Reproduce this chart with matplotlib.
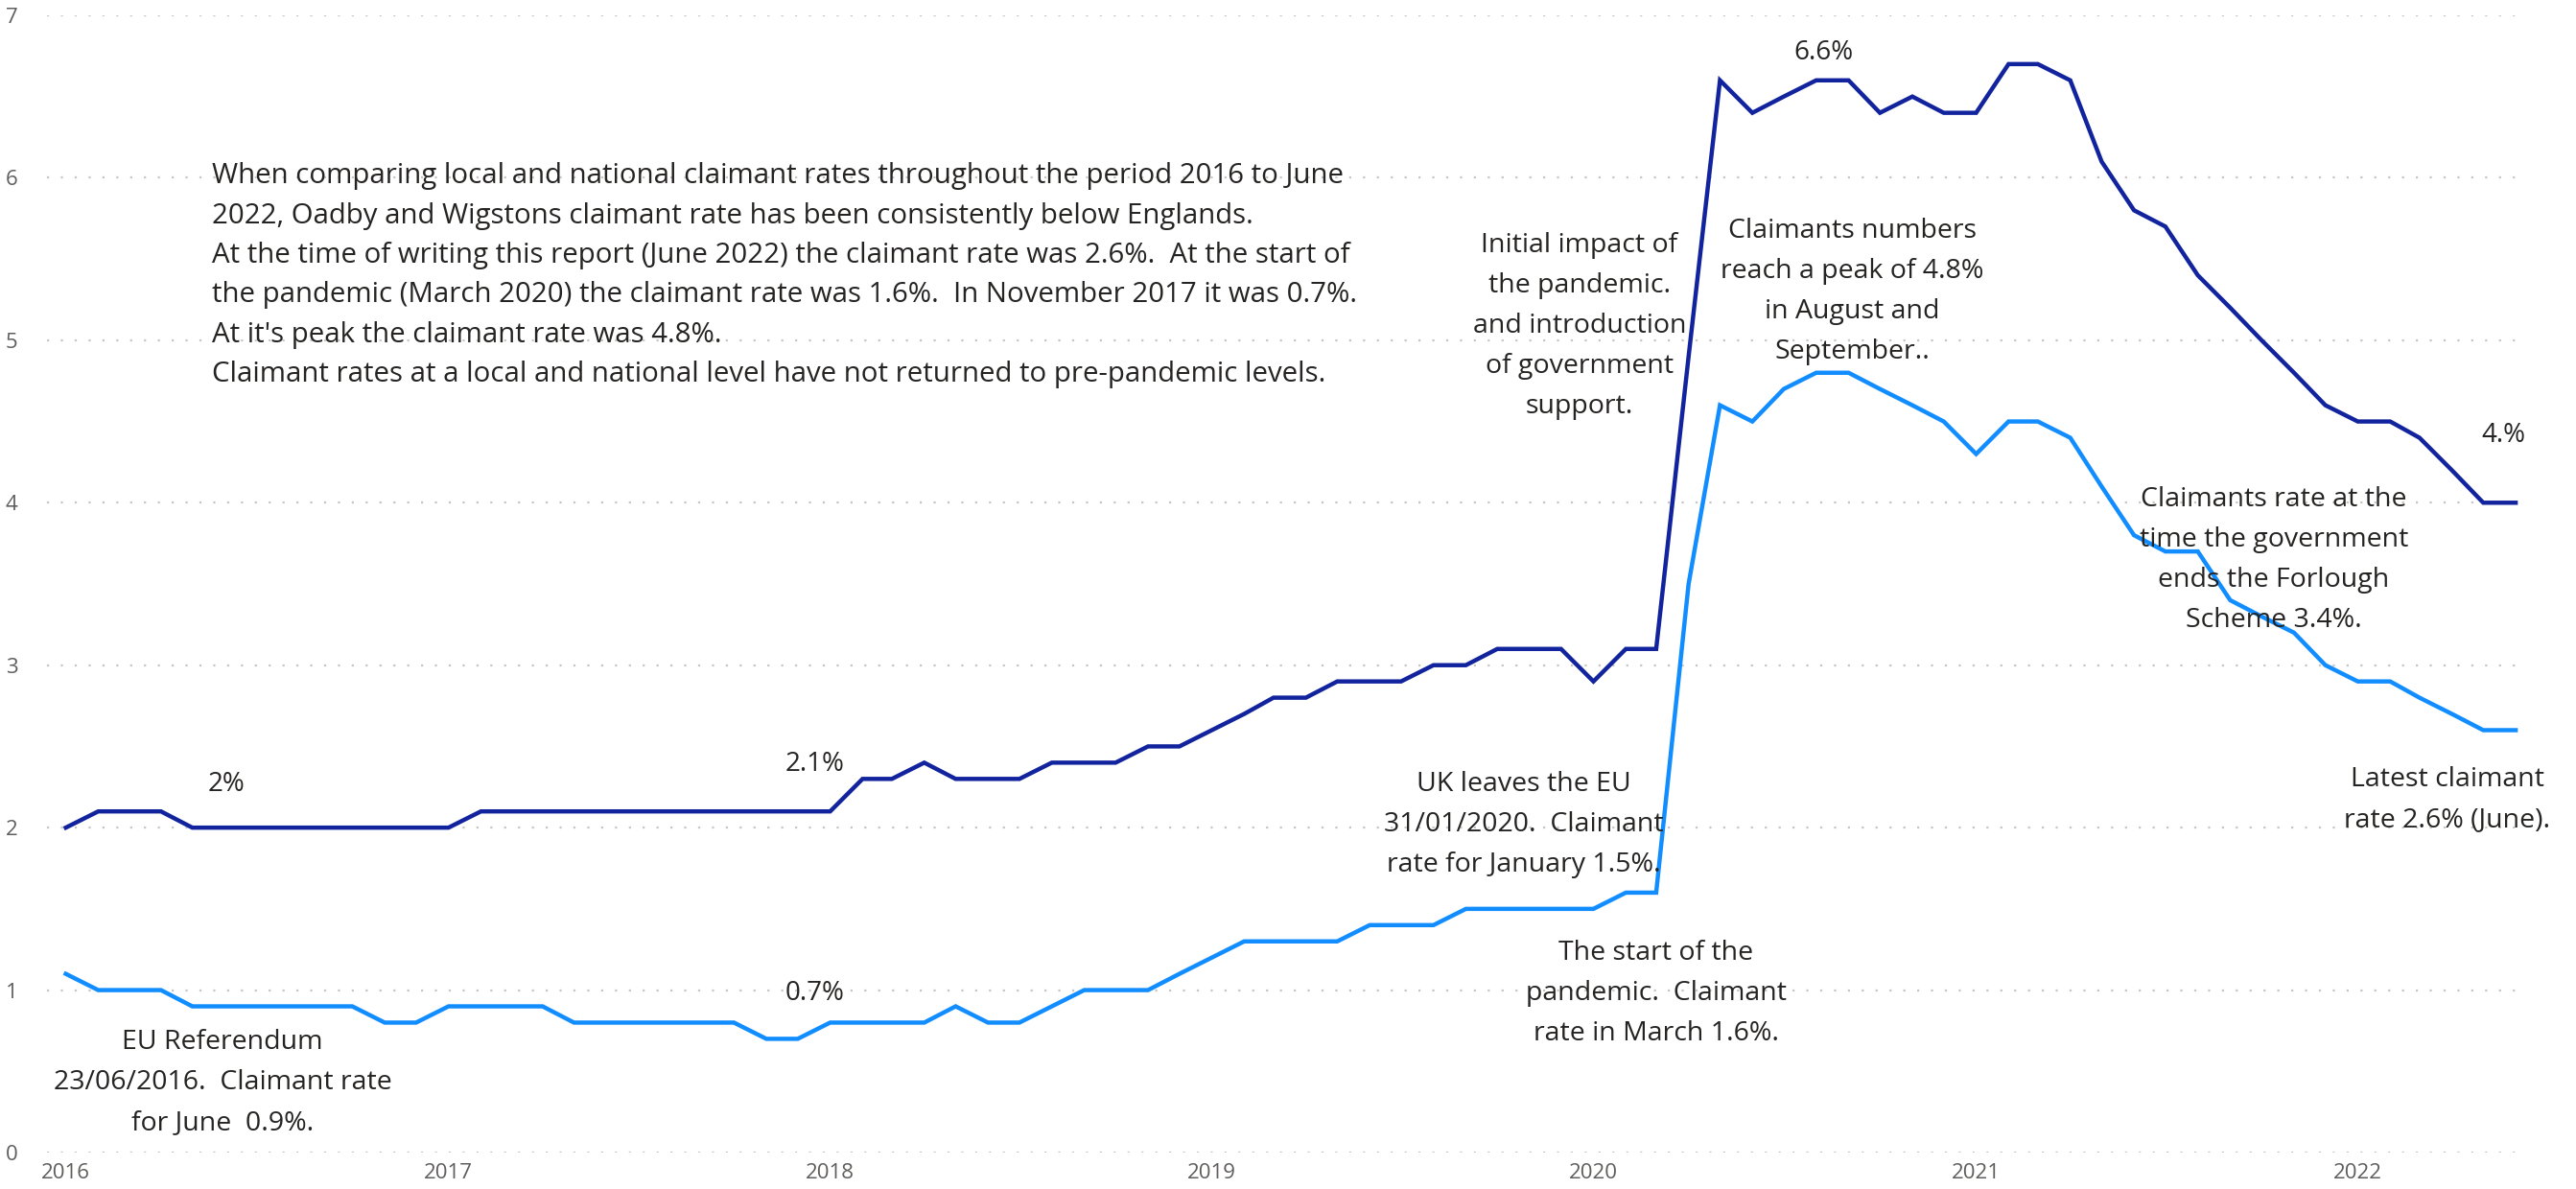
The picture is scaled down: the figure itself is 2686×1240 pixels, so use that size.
import matplotlib
matplotlib.use('Agg')
import matplotlib.pyplot as plt
import matplotlib.dates as mdates
import pandas as pd

# monthly claimant rates (%), Jan 2016 - Jun 2022
months = pd.date_range('2016-01-01', '2022-06-01', freq='MS')

england = [
    2.0, 2.1, 2.1, 2.1, 2.0, 2.0, 2.0, 2.0, 2.0, 2.0, 2.0, 2.0,   # 2016
    2.0, 2.1, 2.1, 2.1, 2.1, 2.1, 2.1, 2.1, 2.1, 2.1, 2.1, 2.1,   # 2017
    2.1, 2.3, 2.3, 2.4, 2.3, 2.3, 2.3, 2.4, 2.4, 2.4, 2.5, 2.5,   # 2018
    2.6, 2.7, 2.8, 2.8, 2.9, 2.9, 2.9, 3.0, 3.0, 3.1, 3.1, 3.1,   # 2019
    2.9, 3.1, 3.1, 4.9, 6.6, 6.4, 6.5, 6.6, 6.6, 6.4, 6.5, 6.4,   # 2020
    6.4, 6.7, 6.7, 6.6, 6.1, 5.8, 5.7, 5.4, 5.2, 5.0, 4.8, 4.6,   # 2021
    4.5, 4.5, 4.4, 4.2, 4.0, 4.0,                                 # 2022
]

oadby_wigston = [
    1.1, 1.0, 1.0, 1.0, 0.9, 0.9, 0.9, 0.9, 0.9, 0.9, 0.8, 0.8,   # 2016
    0.9, 0.9, 0.9, 0.9, 0.8, 0.8, 0.8, 0.8, 0.8, 0.8, 0.7, 0.7,   # 2017
    0.8, 0.8, 0.8, 0.8, 0.9, 0.8, 0.8, 0.9, 1.0, 1.0, 1.0, 1.1,   # 2018
    1.2, 1.3, 1.3, 1.3, 1.3, 1.4, 1.4, 1.4, 1.5, 1.5, 1.5, 1.5,   # 2019
    1.5, 1.6, 1.6, 3.5, 4.6, 4.5, 4.7, 4.8, 4.8, 4.7, 4.6, 4.5,   # 2020
    4.3, 4.5, 4.5, 4.4, 4.1, 3.8, 3.7, 3.7, 3.4, 3.3, 3.2, 3.0,   # 2021
    2.9, 2.9, 2.8, 2.7, 2.6, 2.6,                                 # 2022
]

years = [2016, 2017, 2018, 2019, 2020, 2021, 2022]
y_ticks = [0, 1, 2, 3, 4, 5, 6, 7]

# (month, which series, label text)
point_labels = [
    ('2016-06-01', 'eng', '2%'),
    ('2017-12-01', 'eng', '2.1%'),
    ('2017-12-01', 'ow', '0.7%'),
    ('2020-08-01', 'eng', '6.6%'),
    ('2022-06-01', 'eng', '4.%'),
]

summary = [
    "When comparing local and national claimant rates throughout the period 2016 to June",
    "2022, Oadby and Wigstons claimant rate has been consistently below Englands.",
    "At the time of writing this report (June 2022) the claimant rate was 2.6%.  At the start of",
    "the pandemic (March 2020) the claimant rate was 1.6%.  In November 2017 it was 0.7%.",
    "At it's peak the claimant rate was 4.8%.",
    "Claimant rates at a local and national level have not returned to pre-pandemic levels.",
]

notes = [
    (["EU Referendum", "23/06/2016.  Claimant rate", "for June  0.9%."], 232, 1087),
    (["UK leaves the EU", "31/01/2020.  Claimant", "rate for January 1.5%."], 1589, 818),
    (["The start of the", "pandemic.  Claimant", "rate in March 1.6%."], 1727, 994),
    (["Initial impact of", "the pandemic.", "and introduction", "of government", "support."], 1647, 256),
    (["Claimants numbers", "reach a peak of 4.8%", "in August and", "September.."], 1931, 241),
    (["Claimants rate at the", "time the government", "ends the Forlough", "Scheme 3.4%."], 2371, 521),
    (["Latest claimant", "rate 2.6% (June)."], 2552, 813),
]

DARK = '#12239E'
LIGHT = '#118DFF'
TEXT = '#252423'
W, H = 2686, 1240

plt.rcParams['font.family'] = ['Open Sans', 'DejaVu Sans']

fig = plt.figure(figsize=(W / 100, H / 100), dpi=100)
ax = fig.add_axes([49 / W, 1 - 1202 / H, (2634 - 49) / W, (1202 - 16) / H])

ax.plot(months, england, color=DARK, lw=3.2, solid_joinstyle='miter', zorder=3)
ax.plot(months, oadby_wigston, color=LIGHT, lw=3.2, solid_joinstyle='miter', zorder=3)

x0 = mdates.date2num(months[0])
x1 = mdates.date2num(months[-1])
ax.set_xlim(x0 - 18, x1 + 10)
ax.set_ylim(0, 7)

ax.set_yticks(y_ticks)
ax.set_xticks([mdates.date2num(pd.Timestamp(f'{y}-01-01')) for y in years])
ax.set_xticklabels([str(y) for y in years])
ax.tick_params(axis='both', length=0, labelsize=16, labelcolor='#605E5C')
ax.tick_params(axis='y', pad=22)
ax.tick_params(axis='x', pad=8)
ax.grid(axis='y', color='#C8C6C4', lw=1.6, linestyle=(0, (1, 5.5)))
ax.grid(axis='x', visible=False)
for s in ax.spines.values():
    s.set_visible(False)

series = {'eng': england, 'ow': oadby_wigston}
offsets = {'2%': (2, 45), '2.1%': (18, 49), '0.7%': (18, 47), '6.6%': (8, 29), '4.%': (-13, 70)}
for month, key, label in point_labels:
    i = list(months).index(pd.Timestamp(month))
    ax.annotate(label, (months[i], series[key][i]), xytext=offsets[label],
                textcoords='offset pixels', ha='center', va='center',
                fontsize=20, color=TEXT)


def px(x, y):
    return x / W, 1 - y / H


for i, line in enumerate(summary):
    fig.text(*px(221, 184 + 41.3 * i), line, ha='left', va='center',
             fontsize=21.2, color=TEXT)

for lines, cx, top in notes:
    for i, line in enumerate(lines):
        fig.text(*px(cx, top + 42 * i), line, ha='center', va='center',
                 fontsize=20.5, color=TEXT, zorder=4)

fig.savefig('out.png', dpi=100, facecolor='white')
